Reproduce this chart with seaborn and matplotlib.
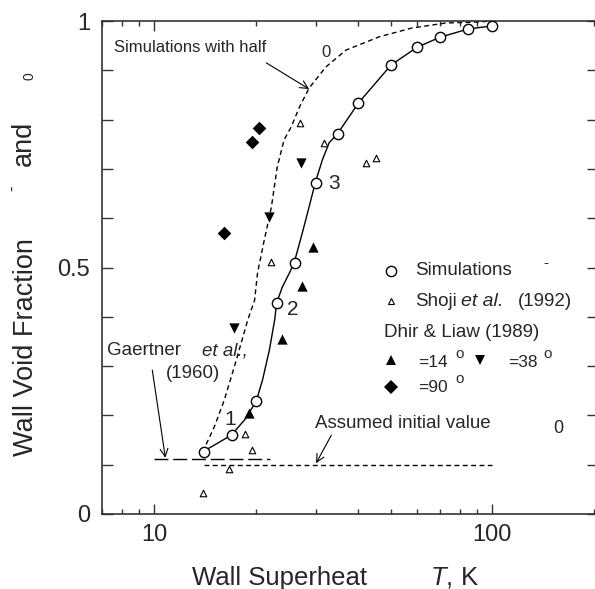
import numpy as np
import pandas as pd
import matplotlib
matplotlib.use("Agg")
import matplotlib.pyplot as plt
import seaborn as sns
from matplotlib.ticker import MultipleLocator, LogLocator, FixedFormatter, NullFormatter, FixedLocator

# simulations (open circles) and the solid curve through them
sim_x = [14, 17, 20, 23, 26, 30, 35, 40, 50, 60, 70, 85, 100]
sim_y = [0.126, 0.160, 0.229, 0.428, 0.509, 0.671, 0.771, 0.834, 0.911, 0.947, 0.967, 0.984, 0.990]
curve_x = [13.9, 16.9, 18.5, 20.0, 20.9, 21.9, 22.7, 23.0, 23.9, 25.1, 25.9, 27.4, 28.7, 29.9,
           31.4, 32.9, 34.8, 40.2, 50.2, 60, 70, 85, 100]
curve_y = [0.126, 0.160, 0.191, 0.228, 0.272, 0.333, 0.394, 0.428, 0.460, 0.489, 0.509, 0.570,
           0.623, 0.671, 0.718, 0.753, 0.771, 0.834, 0.911, 0.947, 0.967, 0.984, 0.990]

# simulations with half theta0 (dashed curve)
half_x = [13.9, 15.05, 16.1, 17.25, 18.05, 18.9, 19.8, 20.2, 21.15, 22.2, 23.1, 24.2, 25.4,
          26.9, 28.7, 32.2, 36.9, 46.3, 58, 73, 91, 100]
half_y = [0.126, 0.177, 0.231, 0.299, 0.346, 0.394, 0.434, 0.489, 0.556, 0.623, 0.704, 0.759,
          0.785, 0.826, 0.864, 0.907, 0.941, 0.968, 0.986, 0.996, 0.998, 1.0]

# Shoji et al. (1992)
shoji_x = [13.9, 16.6, 18.5, 19.4, 22.2, 27.0, 31.8, 42.3, 45.3]
shoji_y = [0.043, 0.091, 0.162, 0.130, 0.511, 0.793, 0.752, 0.712, 0.722]

# Dhir & Liaw (1989)
d14_x = [19.0, 23.9, 27.4, 29.5]
d14_y = [0.205, 0.355, 0.462, 0.542]
d38_x = [17.2, 21.9, 27.2]
d38_y = [0.377, 0.603, 0.712]
d90_x = [16.1, 19.4, 20.45]
d90_y = [0.570, 0.754, 0.783]

# horizontal reference lines
gaertner_x = [10, 22]
gaertner_y = [0.112, 0.112]
initial_x = [14, 100]
initial_y = [0.10, 0.10]

sns.set_style("ticks")
plt.rcParams['font.family'] = ['Liberation Sans', 'DejaVu Sans']
plt.rcParams['mathtext.fontset'] = 'custom'
plt.rcParams['mathtext.rm'] = 'Liberation Sans'
plt.rcParams['mathtext.it'] = 'Liberation Sans:italic'

fig = plt.figure(figsize=(5.95, 5.89), dpi=100)
ax = fig.add_axes([102 / 595, 75 / 589, 495.7 / 595, 493 / 589])

sns.lineplot(x=curve_x, y=curve_y, ax=ax, color="k", lw=1, estimator=None, sort=False)
sns.lineplot(x=half_x, y=half_y, ax=ax, color="k", lw=1, estimator=None, sort=False,
             linestyle=(0, (3.5, 2.5)))
sns.lineplot(x=gaertner_x, y=gaertner_y, ax=ax, color="k", lw=1, estimator=None,
             linestyle=(0, (10, 3.5)))
sns.lineplot(x=initial_x, y=initial_y, ax=ax, color="k", lw=1, estimator=None,
             linestyle=(0, (3.5, 2.5)))

sns.scatterplot(x=sim_x, y=sim_y, ax=ax, marker="o", s=55, facecolor="white",
                edgecolor="k", linewidth=1, zorder=5)
sns.scatterplot(x=shoji_x, y=shoji_y, ax=ax, marker="^", s=22, facecolor="white",
                edgecolor="k", linewidth=0.8, zorder=5)
sns.scatterplot(x=d14_x, y=d14_y, ax=ax, marker="^", s=55, color="k", linewidth=0, zorder=5)
sns.scatterplot(x=d38_x, y=d38_y, ax=ax, marker="v", s=55, color="k", linewidth=0, zorder=5)
sns.scatterplot(x=d90_x, y=d90_y, ax=ax, marker="D", s=48, color="k", linewidth=0, zorder=5)

ax.set_xscale("log")
ax.set_xlim(7, 205)
ax.set_ylim(0, 1)

ax.xaxis.set_major_locator(FixedLocator([10, 100]))
ax.xaxis.set_major_formatter(FixedFormatter(["10", "100"]))
ax.xaxis.set_minor_locator(LogLocator(base=10, subs=np.arange(2, 10)))
ax.xaxis.set_minor_formatter(NullFormatter())
ax.yaxis.set_minor_locator(MultipleLocator(0.1))
ax.set_yticks([0, 0.5, 1])
ax.set_yticklabels(["0", "0.5", "1"])

ax.tick_params(which="both", direction="in", top=True, right=True, width=1, color="#333333")
ax.tick_params(axis="y", which="both", length=8, labelsize=17, pad=8.5)
ax.tick_params(axis="x", which="major", length=7, labelsize=17, pad=7)
ax.tick_params(axis="x", which="minor", length=3.5)
for sp in ax.spines.values():
    sp.set_linewidth(1.2)
    sp.set_color("#333333")

# axis labels (greek letters of the original are missing, gaps kept)
ax.set_ylabel("Wall Void Fraction", fontsize=19.5)
ax.yaxis.set_label_coords(-0.154, 0.338)
ax.yaxis.label.set_va("center")
fig.text(24 / 595, 1 - 143 / 589, "and", fontsize=19.5, rotation=90, ha="center", va="center")
fig.text(13 / 595, 1 - 188 / 589, "-", fontsize=12, rotation=90, ha="center", va="center")
fig.text(29 / 595, 1 - 76 / 589, "0", fontsize=10, rotation=90, ha="center", va="center")

ax.set_xlabel("Wall Superheat", fontsize=18.5)
ax.xaxis.set_label_coords(0.359, -0.144)
ax.xaxis.label.set_va("baseline")
ax.text(0.662, -0.144, r"$\mathit{T}$, K", fontsize=18.5, transform=ax.transAxes, va="baseline")

# annotations
ax.text(7.62, 0.947, "Simulations with half", fontsize=12, va="center")
ax.text(32.3, 0.937, "0", fontsize=12, va="center", ha="center")
ax.annotate("", xy=(28.7, 0.862), xytext=(21.45, 0.915),
            arrowprops=dict(arrowstyle="->", lw=0.8, color="k", shrinkA=0, shrinkB=0,
                            mutation_scale=14))

ax.text(7.26, 0.331, "Gaertner", fontsize=13.5, va="center")
ax.text(13.87, 0.331, "et al.,", fontsize=13.5, va="center", style="italic")
ax.text(10.85, 0.284, "(1960)", fontsize=13.5, va="center")
ax.annotate("", xy=(10.78, 0.114), xytext=(9.86, 0.292),
            arrowprops=dict(arrowstyle="->", lw=0.8, color="k", shrinkA=0, shrinkB=0,
                            mutation_scale=14))

ax.text(29.9, 0.183, "Assumed initial value", fontsize=13.5, va="center")
ax.annotate("", xy=(30.1, 0.103), xytext=(33.4, 0.160),
            arrowprops=dict(arrowstyle="->", lw=0.8, color="k", shrinkA=0, shrinkB=0,
                            mutation_scale=14))
ax.text(157, 0.174, "0", fontsize=13, ha="center", va="center")

ax.text(16.78, 0.191, "1", fontsize=15, ha="center", va="center")
ax.text(25.6, 0.414, "2", fontsize=15, ha="center", va="center")
ax.text(34.1, 0.671, "3", fontsize=15, ha="center", va="center")

# legend, drawn by hand
tr = ax.transAxes
ax.plot(0.583, 0.493, "o", ms=7.4, mfc="white", mec="k", mew=1, transform=tr)
ax.text(0.631, 0.493, "Simulations", fontsize=13.5, va="center", transform=tr)
ax.text(0.896, 0.509, "-", fontsize=11, ha="center", va="center", transform=tr)
ax.plot(0.583, 0.432, "^", ms=4.7, mfc="white", mec="k", mew=0.8, transform=tr)
ax.text(0.631, 0.432, "Shoji", fontsize=13.5, va="center", transform=tr)
ax.text(0.724, 0.432, "et al.", fontsize=14, va="center", style="italic", transform=tr)
ax.text(0.839, 0.432, "(1992)", fontsize=13.5, va="center", transform=tr)
ax.text(0.569, 0.369, "Dhir & Liaw (1989)", fontsize=13.5, va="center", transform=tr)
ax.plot(0.583, 0.312, "^", ms=7.4, color="k", mew=0, transform=tr)
ax.text(0.637, 0.308, "=14", fontsize=12.5, va="center", transform=tr)
ax.text(0.712, 0.324, "o", fontsize=11, va="center", transform=tr)
ax.plot(0.763, 0.312, "v", ms=7.4, color="k", mew=0, transform=tr)
ax.text(0.819, 0.308, "=38", fontsize=12.5, va="center", transform=tr)
ax.text(0.890, 0.324, "o", fontsize=11, va="center", transform=tr)
ax.plot(0.583, 0.258, "D", ms=7, color="k", mew=0, transform=tr)
ax.text(0.637, 0.256, "=90", fontsize=12.5, va="center", transform=tr)
ax.text(0.712, 0.274, "o", fontsize=11, va="center", transform=tr)

fig.savefig("out.png", dpi=100)
